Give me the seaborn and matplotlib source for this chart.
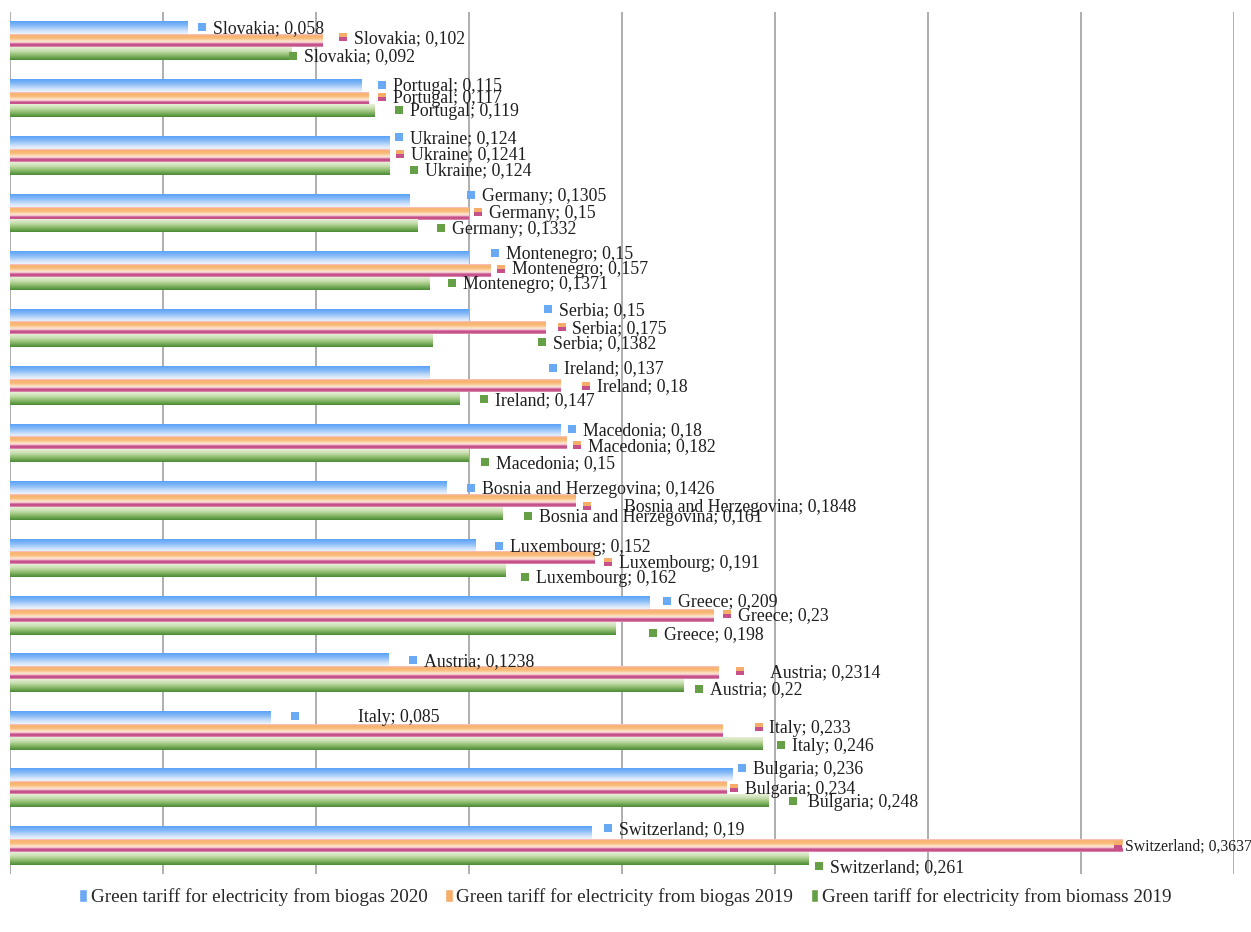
import numpy as np
import pandas as pd
import matplotlib
matplotlib.use("Agg")
import matplotlib.pyplot as plt
import seaborn as sns
from matplotlib.colors import LinearSegmentedColormap
from matplotlib import transforms
from matplotlib.patches import Patch

# ---------------- data ----------------
countries = ["Slovakia", "Portugal", "Ukraine", "Germany", "Montenegro", "Serbia",
             "Ireland", "Macedonia", "Bosnia and Herzegovina", "Luxembourg", "Greece",
             "Austria", "Italy", "Bulgaria", "Switzerland"]
biogas_2020 = [0.058, 0.115, 0.124, 0.1305, 0.15, 0.15, 0.137, 0.18, 0.1426, 0.152,
               0.209, 0.1238, 0.085, 0.236, 0.19]
biogas_2019 = [0.102, 0.117, 0.1241, 0.15, 0.157, 0.175, 0.18, 0.182, 0.1848, 0.191,
               0.23, 0.2314, 0.233, 0.234, 0.3637]
biomass_2019 = [0.092, 0.119, 0.124, 0.1332, 0.1371, 0.1382, 0.147, 0.15, 0.161, 0.162,
                0.198, 0.22, 0.246, 0.248, 0.261]
series_names = ["Green tariff for electricity from biogas 2020",
                "Green tariff for electricity from biogas 2019",
                "Green tariff for electricity from biomass 2019"]

# label nudges (pixels): text x offset from bar end, marker x offset, vertical offset (down +)
text_dx = [
    [26, 31, 21, 73, 37, 90, 135, 22, 36, 35, 28, 35, 88, 21, 28],
    [32, 25, 21, 20, 22, 27, 36, 21, 49, 25, 24, 52, 46, 19, 2],
    [12, 36, 36, 34, 33, 120, 35, 27, 36, 30, 48, 27, 29, 39, 21],
]
marker_dx_override = {(0, 12): 25, (1, 8): 12, (1, 11): 22, (1, 12): 36, (2, 13): 24,
                       (1, 14): -5}
text_dy = [
    [-1, 0, -6, -5, -5, -6, -5, -1, 0, 1, -2, 0, -1, -7, -4],
    [-4, -1, -2, -1, -2, -1, 0, 2, 6, 4, -1, -2, -3, 0, 0],
    [2, -1, 1, 2, 0, 1, 1, 6, 3, 6, 5, 3, 2, 0, 8],
]
small_labels = {(1, 14)}

df = pd.DataFrame({
    "country": countries * 3,
    "series": [series_names[0]] * 15 + [series_names[1]] * 15 + [series_names[2]] * 15,
    "value": biogas_2020 + biogas_2019 + biomass_2019,
})

sns.set_theme(style="white")
plt.rcParams["font.family"] = ["Liberation Serif", "DejaVu Serif"]

W, H = 1251, 932
fig = plt.figure(figsize=(W / 100, H / 100), dpi=100)
ax = fig.add_axes([10 / W, 1 - 874 / H, 1224 / W, 862 / H])

base_colors = ["#6aaaf5", "#f6ad6a", "#66a046"]
sns.barplot(data=df, y="country", x="value", hue="series", order=countries,
            hue_order=series_names, orient="h", width=0.67, gap=0,
            palette=base_colors, errorbar=None, legend=False, ax=ax)

# gradient colormaps (top -> bottom)
cmaps = [
    LinearSegmentedColormap.from_list("b", [(0, "#5aa2f6"), (0.35, "#86bbf7"),
                                            (0.75, "#cfe2fa"), (1, "#eef4fd")]),
    LinearSegmentedColormap.from_list("o", [(0, "#f8c6d2"), (0.12, "#f7b06a"),
                                            (0.35, "#f9bd80"), (0.55, "#fde7cd"),
                                            (0.68, "#f3c4d2"), (0.76, "#c5508a"),
                                            (0.92, "#c5508a"), (1, "#e7a6c0")]),
    LinearSegmentedColormap.from_list("g", [(0, "#e6efd7"), (0.3, "#c8dfb0"),
                                            (0.6, "#93bf72"), (1, "#4a8a34")]),
]
grad = np.linspace(0, 1, 64).reshape(-1, 1)

for j, cont in enumerate(ax.containers):
    for bar in cont:
        x0, y0 = bar.get_x(), bar.get_y()
        w, h = bar.get_width(), bar.get_height()
        ax.imshow(grad, extent=(x0, x0 + w, y0 + h, y0), origin="upper",
                  aspect="auto", cmap=cmaps[j], interpolation="bilinear", zorder=2)
        bar.set_visible(False)

ax.set_xlim(0, 0.4)
ax.set_ylim(len(countries) - 0.5, -0.5)
ax.set_xticks(np.arange(0, 0.4001, 0.05))
ax.xaxis.grid(True, color="#a8a8a8", lw=1.3)
ax.yaxis.grid(False)
ax.set_axisbelow(True)
ax.tick_params(length=0, labelbottom=False, labelleft=False)
ax.set_xlabel("")
ax.set_ylabel("")
for s in ax.spines.values():
    s.set_visible(False)

# data labels with legend-key markers
series_vals = [biogas_2020, biogas_2019, biomass_2019]
for j, cont in enumerate(ax.containers):
    for i, bar in enumerate(cont):
        xe = bar.get_x() + bar.get_width()
        yc = bar.get_y() + bar.get_height() / 2
        v = series_vals[j][i]
        txt = f"{countries[i]}; {str(v).replace('.', ',')}"
        tdx = text_dx[j][i]
        dy = text_dy[j][i]
        fs = 11.3 if (j, i) in small_labels else 12.8
        ax.annotate(txt, xy=(xe, yc), xytext=(tdx * 0.72, -dy * 0.72 - 1),
                    textcoords="offset points", ha="left", va="center",
                    fontsize=fs, color="#1e1e1e", zorder=6, annotation_clip=False)
        mdx = marker_dx_override.get((j, i), tdx - 11)
        tr = transforms.offset_copy(ax.transData, fig=fig, x=mdx, y=-dy, units="dots")
        if j == 1:
            ax.plot([xe], [yc], marker="s", ms=6, transform=tr, fillstyle="top",
                    markerfacecolor="#f6ad6a", markerfacecoloralt="#c5508a",
                    markeredgewidth=0, clip_on=False, zorder=5)
        else:
            ax.plot([xe], [yc], marker="s", ms=6, transform=tr,
                    markerfacecolor=base_colors[j], markeredgewidth=0,
                    clip_on=False, zorder=5)

handles = [Patch(facecolor="#6aaaf5"), Patch(facecolor="#f6ad6a"), Patch(facecolor="#66a046")]
fig.legend(handles, series_names, loc="center", bbox_to_anchor=(0.5, 1 - 897 / H),
           ncol=3, frameon=False, fontsize=13.8, handlelength=0.4, handleheight=0.7,
           handletextpad=0.2, columnspacing=0.9)

fig.savefig("out.png", dpi=100)
